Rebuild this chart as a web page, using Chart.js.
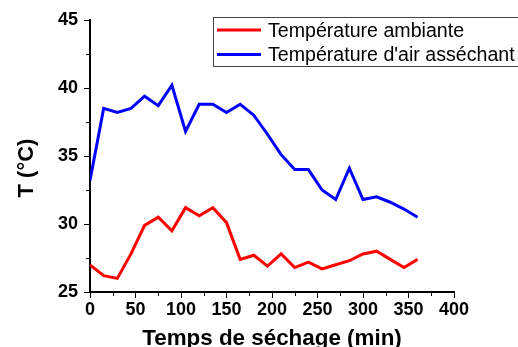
<!DOCTYPE html>
<html>
<head>
<meta charset="utf-8">
<script src="https://cdn.jsdelivr.net/npm/chart.js@4/dist/chart.umd.min.js"></script>
<style>
  html, body { margin: 0; padding: 0; background: #fff; }
  #wrap { width: 518px; height: 347px; }
</style>
</head>
<body>
<div id="wrap"><canvas id="c" width="518" height="347"></canvas></div>
<script>
// Drying time (min), sampled every 15 minutes
const timeMin = [0, 15, 30, 45, 60, 75, 90, 105, 120, 135, 150, 165, 180, 195, 210, 225, 240, 255, 270, 285, 300, 315, 330, 345, 360];
// Ambient temperature (°C)
const ambientTemp = [27.0, 26.2, 26.0, 27.8, 29.9, 30.5, 29.5, 31.2, 30.6, 31.2, 30.1, 27.4, 27.7, 26.9, 27.8, 26.8, 27.2, 26.7, 27.0, 27.3, 27.8, 28.0, 27.4, 26.8, 27.4];
// Drying air temperature (°C)
const dryingAirTemp = [33.2, 38.5, 38.2, 38.5, 39.4, 38.7, 40.2, 36.8, 38.8, 38.8, 38.2, 38.8, 38.0, 36.6, 35.1, 34.0, 34.0, 32.5, 31.8, 34.1, 31.8, 32.0, 31.6, 31.1, 30.5];
const seriesLabels = ["Température ambiante", "Température d'air asséchant"];
const xTicks = [0, 50, 100, 150, 200, 250, 300, 350, 400];
const yTicks = [25, 30, 35, 40, 45];
const xTitle = 'Temps de séchage (min)';
const yTitle = 'T (°C)';

const FONT = "'Liberation Sans', Arial, sans-serif";

// Minor tick marks, axis titles and the framed legend
const extras = {
  id: 'extras',
  afterDraw(chart) {
    const ctx = chart.ctx;
    const xs = chart.scales.x, ys = chart.scales.y;
    const area = chart.chartArea;
    ctx.save();
    ctx.strokeStyle = '#000';
    ctx.lineWidth = 1;
    for (let i = 0; i < xTicks.length - 1; i++) {
      const v = (xTicks[i] + xTicks[i + 1]) / 2;
      const px = Math.round(xs.getPixelForValue(v)) + 0.5;
      ctx.beginPath();
      ctx.moveTo(px, xs.top);
      ctx.lineTo(px, xs.top + 4);
      ctx.stroke();
    }
    for (let i = 0; i < yTicks.length - 1; i++) {
      const v = (yTicks[i] + yTicks[i + 1]) / 2;
      const py = Math.round(ys.getPixelForValue(v)) + 0.5;
      ctx.beginPath();
      ctx.moveTo(ys.right, py);
      ctx.lineTo(ys.right - 4, py);
      ctx.stroke();
    }

    // axis titles
    ctx.fillStyle = '#000';
    ctx.font = 'bold 22.4px ' + FONT;
    ctx.textAlign = 'center';
    ctx.textBaseline = 'alphabetic';
    ctx.fillText(xTitle, (area.left + area.right) / 2, 345);
    ctx.save();
    ctx.translate(33, 168);
    ctx.rotate(-Math.PI / 2);
    ctx.font = 'bold 22px ' + FONT;
    ctx.textAlign = 'center';
    ctx.textBaseline = 'alphabetic';
    ctx.fillText(yTitle, 0, 0);
    ctx.restore();

    // legend
    const lx = 213, ly = 17, lw = 310, lh = 49;
    ctx.strokeStyle = '#444';
    ctx.lineWidth = 1;
    ctx.strokeRect(lx + 0.5, ly + 0.5, lw, lh);
    ctx.font = '19.6px ' + FONT;
    ctx.textBaseline = 'alphabetic';
    ctx.textAlign = 'left';
    chart.data.datasets.forEach((ds, i) => {
      const yy = 30 + i * 24.5;
      ctx.strokeStyle = ds.borderColor;
      ctx.lineWidth = 3;
      ctx.beginPath();
      ctx.moveTo(217, yy);
      ctx.lineTo(261, yy);
      ctx.stroke();
      ctx.fillStyle = '#000';
      ctx.fillText(ds.label, 268, yy + 6.5);
    });
    ctx.restore();
  }
};

new Chart(document.getElementById('c'), {
  type: 'line',
  data: {
    datasets: [
      {
        label: seriesLabels[0],
        data: timeMin.map((t, i) => ({ x: t, y: ambientTemp[i] })),
        borderColor: '#ff0000',
        borderWidth: 3,
        pointRadius: 0,
        tension: 0,
        fill: false
      },
      {
        label: seriesLabels[1],
        data: timeMin.map((t, i) => ({ x: t, y: dryingAirTemp[i] })),
        borderColor: '#0000ff',
        borderWidth: 3,
        pointRadius: 0,
        tension: 0,
        fill: false
      }
    ]
  },
  options: {
    responsive: false,
    animation: false,
    layout: { padding: { top: 20, right: 64, left: 0, bottom: 0 } },
    plugins: { legend: { display: false }, tooltip: { enabled: false } },
    scales: {
      x: {
        type: 'linear',
        min: 0, max: 400,
        afterBuildTicks: (s) => { s.ticks = xTicks.map(v => ({ value: v })); },
        afterFit: (s) => { s.height = 55; },
        grid: { drawOnChartArea: false, drawTicks: true, tickLength: 6, color: '#000', tickColor: '#000' },
        border: { display: true, color: '#000', width: 2 },
        ticks: { color: '#000', font: { family: FONT, size: 18, weight: 'bold' }, padding: 1, maxRotation: 0 }
      },
      y: {
        type: 'linear',
        min: 25, max: 45,
        afterBuildTicks: (s) => { s.ticks = yTicks.map(v => ({ value: v })); },
        afterFit: (s) => { s.width = 90; },
        grid: { drawOnChartArea: false, drawTicks: true, tickLength: 6, color: '#000', tickColor: '#000' },
        border: { display: true, color: '#000', width: 2 },
        ticks: { color: '#000', font: { family: FONT, size: 18, weight: 'bold' }, padding: 6 }
      }
    }
  },
  plugins: [extras]
});
</script>
</body>
</html>
